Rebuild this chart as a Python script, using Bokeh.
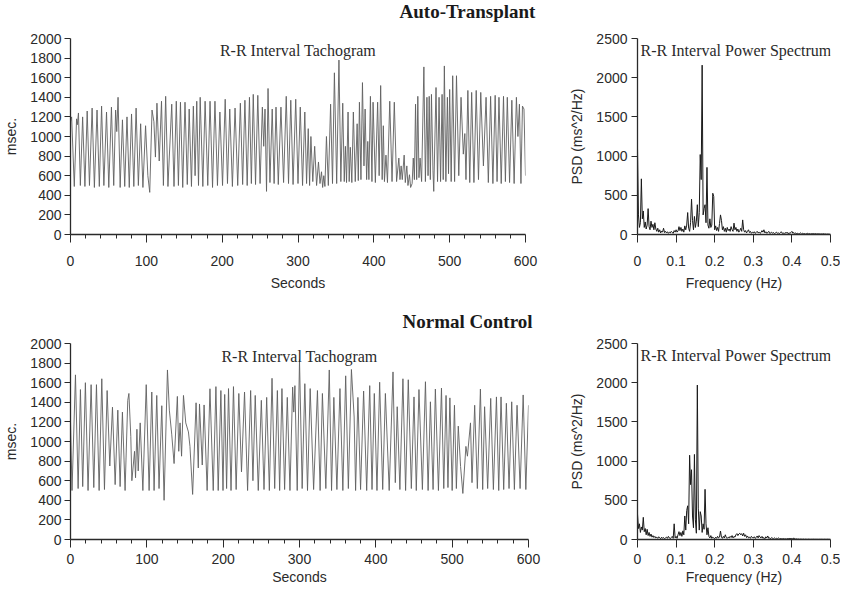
from bokeh.plotting import figure
from bokeh.layouts import column, row
from bokeh.models import Range1d, FixedTicker, Label
from bokeh.core.properties import value
from bokeh.embed import file_html
from bokeh.resources import INLINE

# ---------------- data ----------------
# Auto-Transplant R-R tachogram (seconds, msec)
top_t = [0, 1.5, 5, 8, 9, 10.5, 13, 16, 19, 22, 25, 28.5, 31.5, 35, 38, 41, 44, 47.5, 50.5, 54,
         57, 59.5, 61, 62.7, 65.5, 68.5, 71.5, 74.5, 77.5, 80.5, 83.5, 86.5, 89.5, 92.5, 95.5, 99,
         102, 104.5, 107.5, 110, 112, 114, 117, 120, 122.5, 125.5, 128.5,
         133.5, 136.5, 139.5, 142.3, 145, 148, 151, 154, 156.5, 159.5, 162, 164.3, 166.5, 168.8,
         171, 174.5, 177.5, 181, 184, 187.3, 190.5, 193.8, 197, 200.5, 204, 207, 210, 213.5, 217,
         220.5, 224, 227, 230, 233, 236, 238.5, 241, 244, 247, 250, 253, 254.8, 256.5, 258.5,
         260.5, 263, 266, 268.5, 271, 274, 277.5, 281, 284.5, 287.5, 290.5, 293.5, 297, 300, 303,
         306, 309, 311.3, 313.5, 315.3, 317, 319.5, 322, 324.5, 327, 329, 331, 332.5, 334, 335.5,
         337.5, 340, 343, 345.5, 348, 351, 354, 356.5, 359, 361, 362.5, 364, 366, 367.5, 369, 371,
         373, 375.5, 378, 379.5, 381, 383, 385, 387, 388.5, 390.5, 392, 393.5, 395.5, 397.5, 399,
         402, 405, 407, 409, 411, 412.5, 414, 416, 418, 421, 424, 427, 430, 433, 434.5, 436, 437.5,
         440, 441.5, 443.5, 445, 447, 448.5, 450.5, 452, 453.5, 455, 456.5, 458, 459.5, 461, 463,
         466, 468, 470, 471.5, 473, 474.5, 476, 478, 479, 482, 484, 486, 488, 490, 491.5, 493, 495,
         497, 498.5, 500, 502, 504, 506.5, 509, 512, 515, 518, 520, 521.5, 524, 526.5, 529, 532,
         535, 538, 541, 544.5, 548, 551, 554, 557, 560, 562.5, 565, 568, 571, 573.5, 576, 579, 582,
         585, 588, 590, 592, 594, 596, 598, 600]
top_rr = [1150, 1200, 490, 1180, 1120, 1240, 500, 1200, 490, 1260, 500, 1290, 480, 1270, 490, 1310, 500, 1250, 480, 1300,
          500, 1270, 1050, 1400, 480, 1170, 490, 1200, 480, 1230, 490, 1290, 500, 1130, 480, 1110,
          600, 430, 1270, 1150, 790, 1340, 750, 1360, 500, 1410, 490,
          1330, 490, 1360, 500, 1350, 480, 1350, 510, 1280, 490, 1310, 600, 1360, 500,
          1400, 490, 1360, 500, 1360, 480, 1360, 500, 1250, 500, 1380, 520, 1280, 490, 1290,
          500, 1340, 510, 1370, 500, 1400, 520, 1430, 510, 1420, 520, 1300, 900, 1280, 440,
          1490, 530, 1280, 520, 1300, 510, 1300, 530, 1410, 520, 1370, 510, 1380, 520, 1300,
          500, 1250, 520, 1080, 500, 1000, 540, 900, 500, 740, 520, 640, 480, 600, 490,
          1000, 500, 1330, 520, 1650, 520, 1780, 540, 1340, 540, 900, 530, 1250, 540, 890, 530,
          1250, 540, 1130, 550, 1350, 560, 1550, 700, 1280, 560, 950, 560, 1410, 540, 1350,
          530, 1350, 600, 1520, 560, 1110, 540, 810, 530, 1360, 540, 1350, 540, 780, 560, 700, 560,
          810, 530, 700, 500, 610, 480, 520, 780, 560, 1330, 560, 1410, 580, 780, 540,
          1710, 540, 1400, 600, 1410, 560, 1430, 650, 440, 1500, 540, 1400, 540, 1430, 560, 1720, 540,
          1400, 620, 1480, 540, 1620, 540, 1620, 600, 1400, 820, 1030, 560, 1470, 530, 1450, 530,
          1470, 560, 1450, 700, 1400, 530, 1410, 520, 1420, 540, 1400, 520, 1410, 540, 1400, 530, 1370,
          520, 1400, 1000, 1330, 520, 1310, 1280, 600]

# Normal Control R-R tachogram (seconds, msec)
bot_t = [0, 2, 6.5, 10, 13, 16, 19.5, 23, 27, 30.5, 34, 37.5, 41, 44.5, 48, 51.5, 55, 58.5, 62, 65,
         68, 71.5, 75, 76.5, 79, 80.4, 83.9, 85.2, 87, 88.7, 91.3, 94.8, 99.2, 103, 106.5, 109.5,
         113, 116, 119.6, 122.6, 127, 129.5, 132.6, 135.7, 140, 141.8, 143.5, 145.5, 148, 151,
         154.5, 156.5, 160, 164.5, 167.4, 169, 172.6, 175, 179, 182.7, 187, 190.5, 193.5, 197,
         199.8, 202, 204.5, 207, 210.3, 213.5, 217, 220.5, 224, 228, 232, 236, 239, 242, 246, 250,
         253.5, 257, 260.5, 264, 267.5, 271, 274, 277, 280.5, 284, 287.5, 291, 292.5, 294, 297,
         300, 303.5, 307, 310.5, 314, 318.5, 323.5, 327, 330, 334.5, 339, 342, 345, 349, 353,
         356.8, 360.5, 364, 368, 371.6, 373.5, 376.5, 380, 384, 388, 392, 395, 398, 401.5, 405,
         409, 412.5, 417.5, 422.5, 425.5, 428, 431.5, 435.5, 439, 442.5, 446.5, 450, 453, 456.5,
         461, 465, 468.5, 471.5, 475, 478, 482, 486, 489, 492, 494.5, 497, 500, 503, 505.5, 508,
         511, 514, 518, 520, 524, 526, 529.5, 533, 537, 540, 542.5, 546.5, 550.5, 554, 558, 561,
         564, 567.5, 571, 574.5, 578, 581.5, 585, 589, 593, 596.5, 600]
bot_rr = [1200, 500, 1680, 520, 1530, 540, 1600, 500, 1580, 530, 1580, 500, 1640, 510, 1520, 750, 1350, 560, 1320, 540,
          1300, 500, 1420, 1490, 1050, 600, 900, 630, 1125, 700, 1190, 500, 1580, 500, 1505, 500,
          1470, 520, 1365, 400, 1730, 1320, 1075, 775, 1460, 900, 1190, 850, 1470, 1190,
          1098, 950, 460, 1395, 730, 1383, 760, 1373, 500, 1538, 500, 1560, 500, 1520,
          500, 1480, 520, 1540, 500, 1560, 510, 1490, 690, 1505, 500, 1520, 600, 1470, 500, 1420,
          510, 1450, 500, 1645, 520, 1520, 500, 1540, 510, 1450, 500, 1555, 1300, 1570, 500,
          1835, 520, 1590, 500, 1540, 510, 1520, 500, 1490, 520, 1730, 500, 1450, 510, 1540,
          500, 1670, 520, 1735, 1250, 500, 1450, 510, 1515, 500, 1570, 510, 1490, 500, 1605,
          510, 1490, 500, 1710, 580, 1355, 510, 1640, 500, 1630, 520, 1455, 500, 1530,
          510, 1610, 500, 1405, 510, 1535, 500, 1545, 520, 1470, 530, 1445, 500, 1370, 520, 1157,
          745, 470, 950, 850, 1190, 580, 1370, 520, 1535, 510, 1355, 520, 1440, 510, 1455, 500,
          1455, 510, 1390, 520, 1405, 510, 1370, 520, 1475, 510, 1370]

# Power spectra on a 0.0025 Hz bin grid (ms^2/Hz)
freq_step = 0.0025
top_psd = [1100, 250, 90, 150, 710, 200, 300, 90, 160, 70,
           120, 330, 100, 60, 170, 90, 130, 60, 150, 70,
           40, 80, 30, 60, 20, 45, 30, 80, 25, 40,
           20, 35, 15, 30, 20, 40, 25, 15, 50, 30,
           60, 30, 45, 100, 50, 90, 40, 70, 30, 110,
           60, 120, 280, 80, 40, 150, 450, 180, 60, 230,
           90, 170, 380, 100, 280, 1020, 700, 2160, 250, 330,
           380, 150, 856, 120, 80, 200, 90, 120, 526, 485,
           60, 110, 50, 90, 40, 140, 250, 180, 60, 100,
           40, 80, 30, 90, 50, 70, 40, 100, 60, 40,
           145, 60, 90, 40, 70, 30, 50, 80, 40, 186,
           60, 30, 50, 20, 40, 60, 25, 40, 15, 30,
           20, 35, 15, 25, 40, 20, 30, 15, 25, 50,
           30, 60, 20, 35, 15, 25, 40, 15, 20, 30,
           15, 25, 10, 20, 30, 15, 20, 10, 25, 35,
           15, 20, 10, 25, 15, 30, 10, 20, 15, 25,
           40, 15, 25, 10, 20, 10, 15, 8, 12, 20,
           8, 15, 10, 12, 6, 10, 15, 8, 12, 6,
           10, 8, 12, 6, 10, 8, 5, 10, 6, 8,
           5, 8, 6, 10, 5, 7, 4, 6, 5, 4,
           3]
bot_psd = [325, 140, 200, 90, 160, 120, 283, 100, 140, 60,
           130, 50, 90, 40, 70, 30, 50, 25, 40, 20,
           30, 15, 35, 20, 10, 30, 15, 25, 10, 20,
           30, 15, 40, 20, 10, 25, 40, 15, 200, 20,
           40, 15, 60, 100, 50, 90, 40, 110, 60, 300,
           120, 370, 430, 200, 1075, 700, 890, 300, 150, 1085,
           250, 80, 1970, 400, 120, 355, 300, 90, 200, 130,
           640, 200, 60, 150, 40, 20, 50, 15, 30, 20,
           10, 30, 15, 40, 20, 30, 108, 30, 15, 40,
           20, 60, 25, 15, 30, 20, 40, 25, 50, 20,
           40, 30, 60, 75, 50, 70, 80, 60, 75, 45,
           80, 40, 60, 25, 45, 20, 30, 15, 40, 25,
           20, 35, 15, 25, 45, 20, 50, 30, 20, 40,
           15, 25, 10, 35, 20, 45, 15, 20, 10, 25,
           15, 10, 20, 8, 15, 10, 20, 8, 12, 10,
           8, 12, 6, 10, 5, 8, 12, 6, 15, 8,
           12, 6, 20, 8, 5, 8, 4, 6, 3, 5,
           4, 3, 5, 2, 4, 3, 2, 4, 3, 2,
           3, 2, 4, 2, 3, 2, 3, 2, 2, 3,
           2, 3, 2, 2, 3, 2, 2, 3, 2, 2,
           2]

sec_ticks = [0, 100, 200, 300, 400, 500, 600]
sec_minor = [20, 40, 60, 80, 120, 140, 160, 180, 220, 240, 260, 280, 320, 340, 360, 380,
             420, 440, 460, 480, 520, 540, 560, 580]
msec_ticks = [0, 200, 400, 600, 800, 1000, 1200, 1400, 1600, 1800, 2000]
hz_ticks = [0, 0.1, 0.2, 0.3, 0.4, 0.5]
psd_ticks = [0, 500, 1000, 1500, 2000, 2500]

group_titles = ["Auto-Transplant", "Normal Control"]
tacho_title = "R-R Interval Tachogram"
psd_title = "R-R Interval Power Spectrum"

SANS = "Liberation Sans"
SERIF = "Liberation Serif"
AX = "#2a2a2a"
TOTAL_W = 840
LEFT_W = 566
RIGHT_W = 274


def title_fig(text, h, mid_y):
    p = figure(width=TOTAL_W, height=h, x_range=Range1d(0, TOTAL_W), y_range=Range1d(0, h),
               output_backend="svg", toolbar_location=None,
               x_axis_location=None, y_axis_location=None, min_border=0)
    p.grid.visible = False
    p.outline_line_color = None
    p.text(x=[467], y=[mid_y], text=[text], text_font=value(SERIF), text_font_style="bold",
           text_font_size="19px", text_align="center", text_baseline="middle",
           text_color="#1a1a1a")
    return p


def make_fig(w, h, left, right, top, bottom, xr, yr):
    p = figure(width=w, height=h, x_range=Range1d(*xr), y_range=Range1d(*yr),
               output_backend="svg", toolbar_location=None,
               min_border_left=left, min_border_right=right,
               min_border_top=top, min_border_bottom=bottom)
    p.grid.visible = False
    p.outline_line_color = None
    for ax in (p.xaxis[0], p.yaxis[0]):
        ax.axis_line_color = AX
        ax.axis_line_width = 1.3
        ax.major_tick_line_color = AX
        ax.minor_tick_line_color = AX
        ax.major_tick_in = 0
        ax.minor_tick_in = 0
        ax.major_label_text_font = SANS
        ax.major_label_text_font_size = "14px"
        ax.major_label_text_color = "#2a2a2a"
        ax.axis_label_text_font = SANS
        ax.axis_label_text_font_size = "14px"
        ax.axis_label_text_font_style = "normal"
        ax.axis_label_text_color = "#2a2a2a"
    p.xaxis.major_tick_out = 8
    p.xaxis.minor_tick_out = 4
    p.yaxis.major_tick_out = 6
    p.yaxis.minor_tick_out = 0
    return p


def tacho(t, rr, h, left, frame_w, top, bottom, lab_sd, axlab_sd, inner_y):
    p = make_fig(LEFT_W, h, left, LEFT_W - left - frame_w, top, bottom, (0, 600), (0, 2000))
    p.xaxis.ticker = FixedTicker(ticks=sec_ticks, minor_ticks=sec_minor)
    p.yaxis.ticker = FixedTicker(ticks=msec_ticks)
    p.xaxis.axis_label = "Seconds"
    p.yaxis.axis_label = "msec."
    p.xaxis.major_label_standoff = lab_sd
    p.xaxis.axis_label_standoff = axlab_sd
    p.yaxis.major_label_standoff = 3
    p.yaxis.axis_label_standoff = 8
    p.line(t, rr, line_color="#606060", line_width=0.9)
    p.add_layout(Label(x=300, y=inner_y, text=tacho_title, text_font=SERIF,
                       text_font_size="16px", text_align="center", text_baseline="middle",
                       text_color="#2a2a2a"))
    return p


def psd(vals, h, top, bottom, lab_sd, axlab_sd, inner_x, inner_y):
    p = make_fig(RIGHT_W, h, 66, 10, top, bottom, (0, 0.5), (0, 2500))
    p.xaxis.ticker = FixedTicker(ticks=hz_ticks)
    p.yaxis.ticker = FixedTicker(ticks=psd_ticks)
    p.xaxis.axis_label = "Frequency (Hz)"
    p.yaxis.axis_label = "PSD (ms^2/Hz)"
    p.xaxis.major_label_standoff = lab_sd
    p.xaxis.axis_label_standoff = axlab_sd
    p.yaxis.major_label_standoff = 4
    p.yaxis.axis_label_standoff = 8
    f = [i * freq_step for i in range(len(vals))]
    p.line(f, vals, line_color="#1a1a1a", line_width=1.0)
    p.add_layout(Label(x=inner_x, y=inner_y, text=psd_title, text_font=SERIF,
                       text_font_size="16px", text_align="center", text_baseline="middle",
                       text_color="#2a2a2a"))
    return p


t1 = title_fig(group_titles[0], 24, 13)
f1 = tacho(top_t, top_rr, 273, 66, 459, 14, 61, 13, 6, 1879)
f2 = psd(top_psd, 273, 12, 63, 13, 6, 0.255, 2342)
t2 = title_fig(group_titles[1], 36, 12)
f3 = tacho(bot_t, bot_rr, 256, 68, 460, 10, 50, 6, 2, 1867)
f4 = psd(bot_psd, 256, 10, 50, 6, 2, 0.255, 2343)

layout = column(t1, row(f1, f2), t2, row(f3, f4))
open("out.html", "w").write(file_html(layout, INLINE))
